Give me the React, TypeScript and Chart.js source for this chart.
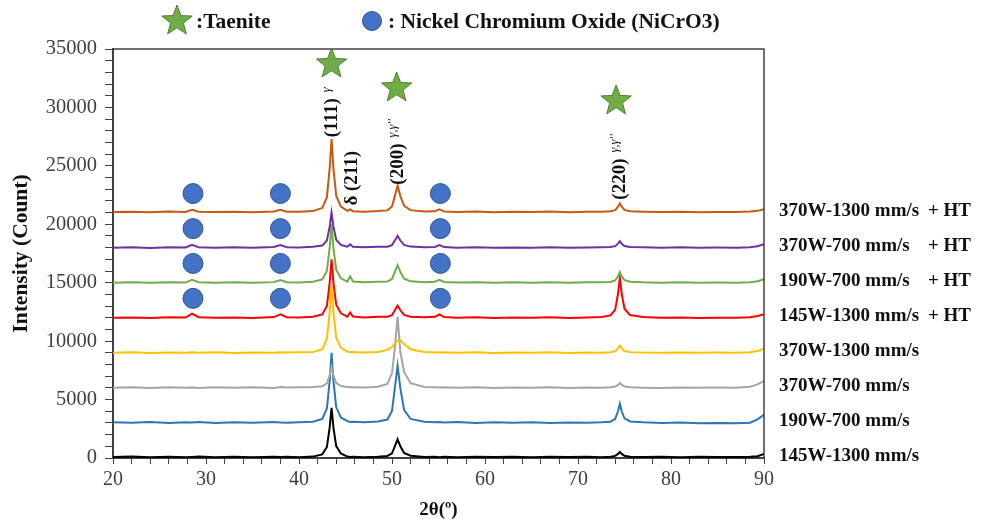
import React, { useEffect, useRef } from 'react';
import { Chart, registerables } from 'chart.js';
Chart.register(...registerables);

const FONT = "'Liberation Serif', 'Times New Roman', serif";

const twoTheta = [20, 22, 24, 26, 27.8, 28.5, 29.2, 31, 33, 35, 37.3, 38, 38.7, 40, 41.5, 42.5, 43, 43.3, 43.5, 43.7, 44, 44.5, 45.2, 45.5, 45.8, 47, 48.5, 49.5, 50, 50.3, 50.6, 50.9, 51.3, 52, 53.5, 54.6, 55.1, 55.6, 57, 59, 61, 63, 65, 67, 69, 71, 72.5, 73.5, 74, 74.3, 74.5, 74.7, 75, 75.6, 77, 79, 81, 83, 85, 87, 88.5, 89.3, 90];

const s145W1300 = [80, 120, 60, 110, 70, 90, 120, 60, 100, 70, 110, 80, 100, 60, 120, 310, 940, 2620, 4300, 2620, 1020, 390, 120, 90, 110, 70, 110, 175, 400, 1000, 1600, 1000, 430, 190, 90, 110, 70, 100, 60, 110, 80, 100, 60, 110, 80, 100, 70, 110, 180, 350, 520, 350, 185, 115, 80, 100, 70, 110, 80, 90, 100, 150, 350];
const s190W700 = [3050, 3020, 3080, 3000, 3060, 3030, 3070, 3000, 3060, 3020, 3080, 3040, 3010, 3060, 3100, 3350, 4240, 6620, 9000, 6620, 4360, 3470, 3150, 3080, 3100, 3060, 3120, 3290, 4020, 5960, 7900, 5960, 4120, 3340, 3100, 3050, 3080, 3030, 3070, 3000, 3050, 3020, 3060, 3000, 3040, 3010, 3050, 3110, 3350, 4000, 4650, 4000, 3390, 3130, 3050, 3000, 3030, 2980, 3000, 2980, 3020, 3300, 3700];
const s370W700 = [6020, 6060, 6000, 6050, 6010, 6040, 6000, 6060, 6020, 6050, 6000, 6070, 6030, 6060, 6080, 6130, 6390, 7100, 7800, 7100, 6430, 6160, 6080, 6050, 6060, 6030, 6100, 6340, 7250, 9370, 12100, 9070, 7370, 6400, 6080, 6050, 6030, 6060, 6020, 6050, 6000, 6040, 6010, 6050, 6000, 6030, 6010, 6050, 6110, 6260, 6420, 6260, 6120, 6050, 6020, 6000, 6040, 6010, 6030, 6020, 6100, 6300, 6600];
const s370W1300 = [9000, 9040, 8980, 9030, 9000, 9050, 9010, 9040, 8990, 9030, 9000, 9050, 9020, 9040, 9060, 9320, 10180, 12490, 14800, 12490, 10300, 9430, 9100, 9050, 9070, 9030, 9080, 9250, 9500, 9800, 10050, 10100, 9750, 9300, 9080, 9040, 9020, 9050, 9000, 9040, 8990, 9030, 9000, 9040, 8990, 9020, 9000, 9050, 9140, 9380, 9620, 9380, 9150, 9060, 9020, 9000, 9030, 9000, 9020, 9010, 9050, 9150, 9350];
const s145W1300HT = [12000, 12030, 11980, 12040, 12020, 12350, 12050, 12000, 12030, 11990, 12060, 12300, 12050, 12020, 12080, 12280, 13020, 15010, 17000, 15010, 13120, 12380, 12100, 12450, 12100, 12030, 12080, 12080, 12230, 12640, 13050, 12640, 12250, 12090, 12040, 12080, 12280, 12060, 12010, 12040, 11990, 12030, 12000, 12040, 11990, 12030, 12060, 12200, 12700, 14050, 15400, 14050, 12770, 12230, 12060, 12000, 12030, 11990, 12010, 12000, 12040, 12150, 12300];
const s190W700HT = [15000, 15040, 14990, 15030, 15010, 15250, 15040, 15000, 15030, 14990, 15050, 15230, 15040, 15020, 15080, 15280, 16020, 18010, 20000, 18010, 16120, 15380, 15100, 15550, 15100, 15030, 15080, 15100, 15320, 15910, 16500, 15910, 15350, 15120, 15050, 15080, 15250, 15060, 15010, 15040, 14990, 15030, 15000, 15040, 14990, 15030, 15040, 15070, 15200, 15550, 15900, 15550, 15220, 15080, 15030, 15000, 15030, 14990, 15010, 15000, 15040, 15120, 15300];
const s370W700HT = [18000, 18030, 17980, 18040, 18010, 18250, 18040, 18000, 18030, 17990, 18050, 18220, 18040, 18020, 18080, 18180, 18620, 19810, 21000, 19810, 18680, 18240, 18080, 18280, 18080, 18030, 18070, 18080, 18220, 18610, 19000, 18610, 18240, 18090, 18040, 18060, 18230, 18050, 18000, 18040, 17990, 18020, 18000, 18040, 17990, 18020, 18030, 18050, 18130, 18340, 18550, 18340, 18140, 18050, 18030, 18000, 18030, 17990, 18010, 18000, 18040, 18120, 18300];
const s370W1300HT = [21050, 21080, 21030, 21090, 21060, 21250, 21080, 21050, 21080, 21040, 21100, 21250, 21080, 21070, 21130, 21390, 22320, 24810, 27300, 24810, 22450, 21520, 21150, 21280, 21120, 21080, 21130, 21190, 21520, 22410, 23300, 22410, 21570, 21210, 21090, 21110, 21270, 21100, 21060, 21090, 21040, 21080, 21050, 21090, 21040, 21070, 21080, 21110, 21210, 21500, 21780, 21500, 21230, 21110, 21080, 21050, 21080, 21040, 21060, 21050, 21090, 21150, 21300];

const seriesValues = [s145W1300, s190W700, s370W700, s370W1300, s145W1300HT, s190W700HT, s370W700HT, s370W1300HT];
const seriesNames = ['145W-1300 mm/s', '190W-700 mm/s', '370W-700 mm/s', '370W-1300 mm/s', '145W-1300 mm/s', '190W-700 mm/s', '370W-700 mm/s', '370W-1300 mm/s'];
const seriesSuffix = ['', '', '', '', '+ HT', '+ HT', '+ HT', '+ HT'];
const seriesLevels = [0, 3000, 6000, 9000, 12000, 15000, 18000, 21000];
const seriesColors = ['#000000', '#2E75B6', '#A5A5A5', '#FFC000', '#FF0000', '#70AD47', '#7030A0', '#C55A11'];

const nicroX = [28.6, 38.0, 55.2];
const nicroY = [13660, 16650, 19630, 22630];
const taeniteX = [43.5, 50.5, 74.1];
const taeniteY = [33720, 31670, 30560];
const peakLabels = ['(111)', 'δ (211)', '(200)', '(220)'];
const peakSups = ['γ', '', "γ,γ''", "γ,γ''"];
const peakX = [43.5, 45.6, 50.6, 74.45];
const peakY = [27450, 21600, 23390, 22110];

function drawStar(ctx: CanvasRenderingContext2D, cx: number, cy: number, r: number) {
  ctx.beginPath();
  for (let i = 0; i < 10; i++) {
    const rr = i % 2 === 0 ? r : r * 0.42;
    const a = -Math.PI / 2 + (i * Math.PI) / 5;
    const px = cx + rr * Math.cos(a);
    const py = cy + rr * Math.sin(a);
    if (i === 0) ctx.moveTo(px, py); else ctx.lineTo(px, py);
  }
  ctx.closePath();
  ctx.fillStyle = '#70AD47';
  ctx.fill();
  ctx.strokeStyle = '#507E32';
  ctx.lineWidth = 1;
  ctx.stroke();
}

const overlay = {
  id: 'overlay',
  afterDatasetsDraw(chart: any) {
    const { ctx, chartArea: a, scales } = chart;
    const xs = scales.x, ys = scales.y;
    ctx.save();
    ctx.strokeStyle = '#404040';
    ctx.lineWidth = 1.5;
    ctx.beginPath();
    ctx.moveTo(a.left, a.top);
    ctx.lineTo(a.right, a.top);
    ctx.lineTo(a.right, a.bottom);
    ctx.stroke();

    taeniteX.forEach((tx, i) => drawStar(ctx, xs.getPixelForValue(tx), ys.getPixelForValue(taeniteY[i]), 16));

    peakLabels.forEach((lab, i) => {
      const px = xs.getPixelForValue(peakX[i]);
      const py = ys.getPixelForValue(peakY[i]);
      ctx.save();
      ctx.translate(px, py);
      ctx.rotate(-Math.PI / 2);
      ctx.textAlign = 'left';
      ctx.textBaseline = 'middle';
      ctx.fillStyle = '#111';
      ctx.font = `bold 19px ${FONT}`;
      ctx.fillText(lab, 0, 1);
      const w = ctx.measureText(lab).width;
      if (peakSups[i]) {
        ctx.font = `italic 12.5px ${FONT}`;
        ctx.fillText(peakSups[i], w + 6, -5);
      }
      ctx.restore();
    });

    ctx.fillStyle = '#111';
    ctx.textBaseline = 'middle';
    ctx.textAlign = 'left';
    ctx.font = `bold 19px ${FONT}`;
    seriesNames.forEach((n, i) => {
      const py = ys.getPixelForValue(seriesLevels[i]) - 2;
      ctx.fillText(n, a.right + 15, py);
      if (seriesSuffix[i]) ctx.fillText(seriesSuffix[i], a.right + 164, py);
    });

    drawStar(ctx, 177, 21, 16);
    ctx.font = `bold 21.5px ${FONT}`;
    ctx.fillStyle = '#111';
    ctx.fillText(':Taenite', 196, 22);
    ctx.beginPath();
    ctx.arc(372, 21, 9.5, 0, Math.PI * 2);
    ctx.fillStyle = '#4472C4';
    ctx.fill();
    ctx.strokeStyle = '#2F5597';
    ctx.lineWidth = 1;
    ctx.stroke();
    ctx.fillStyle = '#111';
    ctx.fillText(': Nickel Chromium Oxide (NiCrO3)', 388, 22);
    ctx.restore();
  },
};

export default function App() {
  const ref = useRef<HTMLCanvasElement>(null);
  useEffect(() => {
    if (!ref.current) return;
    const nicroPts: { x: number; y: number }[] = [];
    nicroY.forEach((yv) => nicroX.forEach((xv) => nicroPts.push({ x: xv, y: yv })));
    const lineSets = seriesValues.map((vals, i) => ({
      type: 'line' as const,
      label: seriesNames[i] + (seriesSuffix[i] ? ' ' + seriesSuffix[i] : ''),
      data: vals.map((v, j) => ({ x: twoTheta[j], y: v })),
      borderColor: seriesColors[i],
      backgroundColor: seriesColors[i],
      borderWidth: 2,
      pointRadius: 0,
      tension: 0,
      fill: false,
    }));
    const chart = new Chart(ref.current, {
      type: 'line',
      data: {
        datasets: [
          {
            type: 'scatter' as const,
            label: 'NiCrO3',
            data: nicroPts,
            pointRadius: 10,
            pointBackgroundColor: '#4472C4',
            pointBorderColor: '#2F5597',
            pointBorderWidth: 1,
            showLine: false,
          } as any,
          ...lineSets.slice().reverse(),
        ],
      },
      options: {
        animation: false,
        responsive: true,
        maintainAspectRatio: false,
        layout: { padding: { top: 49, right: 224, left: 0, bottom: 0 } },
        plugins: { legend: { display: false }, tooltip: { enabled: false } },
        scales: {
          x: {
            type: 'linear',
            min: 20,
            max: 90,
            afterFit: (s: any) => { s.height = 65; },
            ticks: {
              stepSize: 2,
              autoSkip: false,
              maxRotation: 0,
              padding: 4,
              color: '#404040',
              font: { family: FONT, size: 20 },
              callback: (v: any) => (Number(v) % 10 === 0 ? String(v) : ''),
            },
            grid: { drawOnChartArea: false, drawTicks: true, tickLength: 6, color: '#404040' },
            border: { display: true, color: '#404040', width: 2 },
            title: { display: true, text: '2θ(º)', color: '#111', font: { family: FONT, size: 19, weight: 'bold' }, padding: { top: 0, bottom: 2 } },
          },
          y: {
            min: 0,
            max: 35000,
            afterFit: (s: any) => { s.width = 113; },
            ticks: {
              stepSize: 1000,
              autoSkip: false,
              padding: 8,
              color: '#404040',
              font: { family: FONT, size: 20.5 },
              callback: (v: any) => (Number(v) % 5000 === 0 ? String(v) : ''),
            },
            grid: { drawOnChartArea: false, drawTicks: true, tickLength: 8, color: '#404040' },
            border: { display: true, color: '#404040', width: 2 },
            title: { display: true, text: 'Intensity (Count)', color: '#111', font: { family: FONT, size: 21.5, weight: 'bold' }, padding: { top: 9, bottom: 0 } },
          },
        },
      },
      plugins: [overlay],
    });
    return () => chart.destroy();
  }, []);
  return (
    <div style={{ position: 'fixed', left: 0, top: 0, width: 988, height: 523, background: '#fff' }}>
      <canvas ref={ref} />
    </div>
  );
}
